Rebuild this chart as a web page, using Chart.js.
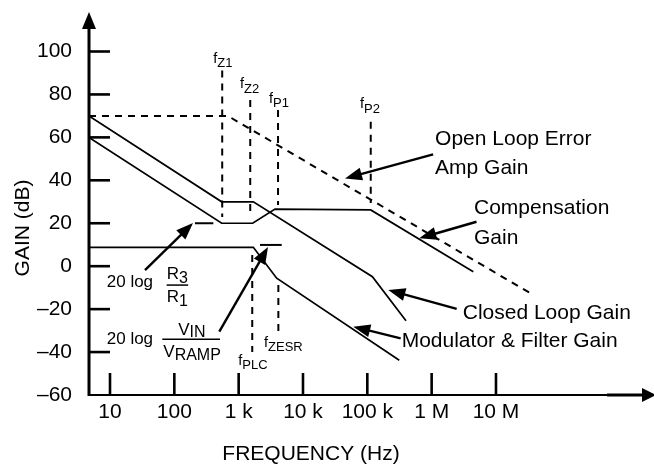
<!DOCTYPE html>
<html><head><meta charset="utf-8">
<style>html,body{margin:0;padding:0;background:#fff;}canvas{display:block;}</style>
<script src="https://cdn.jsdelivr.net/npm/chart.js@4.4.1/dist/chart.umd.min.js"></script>
</head><body>
<canvas id="c" width="654" height="466"></canvas>
<script>
// ---- axis ranges / ticks ----
const xAxisMin = 4.716, xAxisMax = 2.86e9;
const yAxisMin = -60, yAxisMax = 118.4;
const xTickValues = [10, 100, 1e3, 1e4, 1e5, 1e6, 1e7];
const xTickLabels = ['10', '100', '1 k', '10 k', '100 k', '1 M', '10 M'];
const yTickValues = [100, 80, 60, 40, 20, 0, -20, -40, -60];
const yTickLabels = ['100', '80', '60', '40', '20', '0', '\u201320', '\u201340', '\u201360'];

// ---- series (frequency Hz, gain dB) ----
const openLoopFreq = [4.716, 680, 3.8e7];
const openLoopGain = [70, 70, -13.4];
const compFreq = [4.716, 545, 1652, 3673, 1.13e5, 4.44e6];
const compGain = [60, 20, 20, 26.6, 26.2, -2.6];
const closedFreq = [4.716, 545, 1690, 1.2e5, 3.99e5];
const closedGain = [70, 30, 30, -4.9, -25.4];
const modFreq = [4.716, 1690, 3900, 3.14e5];
const modGain = [8.8, 8.8, -5.6, -43.8];

// short level markers
const r3r1MarkFreq = [209, 404];
const r3r1MarkGain = [20, 20];
const vinMarkFreq = [2148, 4670];
const vinMarkGain = [9.9, 9.9];

// vertical dashed frequency markers
const vNames = ['Z1', 'Z2', 'P1', 'P2', 'PLC', 'ZESR'];
const vFreq = [555, 1513, 4093, 1.13e5, 1626, 4140];
const vTop = [91.1, 77.4, 72.8, 67.3, 5.2, -8.8];
const vBottom = [22.9, 22.9, 28.5, 29.4, -40, -31.1];
const vLabelFreq = [402, 1050, 2965, 7.69e4, 986, 2478];
const vLabelGain = [94.8, 82.9, 76.2, 73.5, -46.0, -37.6];

// annotation arrows: tail (freq, gain) -> tip (freq, gain)
const arrowTailFreq = [1.054e6, 4.98e6, 2.45e6, 3.30e5, 35.0, 500];
const arrowTailGain = [52.1, 20.7, -19.9, -33.6, -1.8, -30.5];
const arrowTipFreq = [4.50e4, 6.43e5, 2.12e5, 6.04e4, 195, 2858];
const arrowTipGain = [40.9, 13.0, -11.1, -28.2, 20.1, 8.9];

// annotation texts (left x freq, baseline gain)
const labelTexts = ['Open Loop Error', 'Amp Gain', 'Compensation', 'Gain', 'Closed Loop Gain', 'Modulator & Filter Gain'];
const labelFreq = [1.13e6, 1.13e6, 4.55e6, 4.55e6, 3.04e6, 3.42e5];
const labelGain = [56.4, 42.9, 24.3, 10.3, -24.6, -37.5];

const FONT = '"Liberation Sans", Arial, Helvetica, sans-serif';
const pts = (fs, gs) => fs.map((f, i) => ({x: f, y: gs[i]}));
const solid = {borderColor: '#000', borderWidth: 1.7, pointRadius: 0, showLine: true, fill: false, tension: 0};
const dashed = {borderColor: '#000', borderWidth: 2, borderDash: [7, 6], pointRadius: 0, showLine: true, fill: false, tension: 0};

const datasets = [
  Object.assign({data: pts(openLoopFreq, openLoopGain)}, dashed),
  Object.assign({data: pts(compFreq, compGain)}, solid),
  Object.assign({data: pts(closedFreq, closedGain)}, solid),
  Object.assign({data: pts(modFreq, modGain)}, solid),
  Object.assign({data: pts(r3r1MarkFreq, r3r1MarkGain)}, solid, {borderWidth: 2}),
  Object.assign({data: pts(vinMarkFreq, vinMarkGain)}, solid, {borderWidth: 2}),
];
vFreq.forEach((f, i) => {
  datasets.push(Object.assign({data: [{x: f, y: vTop[i]}, {x: f, y: vBottom[i]}]}, dashed));
});

function arrow(ctx, x1, y1, x2, y2, len, hw, lw) {
  const a = Math.atan2(y2 - y1, x2 - x1);
  const c = Math.cos(a), s = Math.sin(a);
  ctx.lineWidth = lw;
  ctx.beginPath();
  ctx.moveTo(x1, y1);
  ctx.lineTo(x2 - c * len * 0.8, y2 - s * len * 0.8);
  ctx.stroke();
  ctx.beginPath();
  ctx.moveTo(x2, y2);
  ctx.lineTo(x2 - c * len - s * hw, y2 - s * len + c * hw);
  ctx.lineTo(x2 - c * len + s * hw, y2 - s * len - c * hw);
  ctx.closePath();
  ctx.fill();
}
function subText(ctx, main, sub, x, y, ms, ss, dy) {
  ctx.font = ms + 'px ' + FONT;
  ctx.fillText(main, x, y);
  const w = ctx.measureText(main).width;
  ctx.font = ss + 'px ' + FONT;
  ctx.fillText(sub, x + w, y + dy);
}

const decor = {
  id: 'decor',
  afterDraw(chart) {
    const ctx = chart.ctx, xs = chart.scales.x, ys = chart.scales.y;
    const X = v => xs.getPixelForValue(v), Y = v => ys.getPixelForValue(v);
    const L = chart.chartArea.left, T = chart.chartArea.top, R = chart.chartArea.right, B = Y(-60);
    ctx.save();
    ctx.strokeStyle = '#000'; ctx.fillStyle = '#000'; ctx.lineCap = 'butt';
    // y axis
    ctx.lineWidth = 3;
    ctx.beginPath(); ctx.moveTo(L, B + 1); ctx.lineTo(L, T + 14); ctx.stroke();
    ctx.beginPath(); ctx.moveTo(L, T); ctx.lineTo(L - 7, T + 17); ctx.lineTo(L + 7, T + 17); ctx.closePath(); ctx.fill();
    // x axis
    ctx.lineWidth = 2;
    ctx.beginPath(); ctx.moveTo(L, B); ctx.lineTo(R - 47, B); ctx.stroke();
    ctx.lineWidth = 3;
    ctx.beginPath(); ctx.moveTo(R - 47, B); ctx.lineTo(R - 8, B); ctx.stroke();
    ctx.beginPath(); ctx.moveTo(R + 2, B); ctx.lineTo(R - 12, B - 7); ctx.lineTo(R - 12, B + 7); ctx.closePath(); ctx.fill();
    // ticks
    ctx.lineWidth = 2.6;
    yTickValues.forEach(v => { if (v === -60) return; const y = Y(v); ctx.beginPath(); ctx.moveTo(L, y); ctx.lineTo(L + 21, y); ctx.stroke(); });
    xTickValues.forEach(v => { const x = X(v); ctx.beginPath(); ctx.moveTo(x, B); ctx.lineTo(x, B - 22); ctx.stroke(); });
    // arrows
    arrowTailFreq.forEach((f, i) => {
      arrow(ctx, X(f), Y(arrowTailGain[i]), X(arrowTipFreq[i]), Y(arrowTipGain[i]), 17, 6.5, 2.4);
    });
    // labels
    ctx.textBaseline = 'alphabetic'; ctx.textAlign = 'left';
    ctx.font = '21px ' + FONT;
    labelTexts.forEach((t, i) => ctx.fillText(t, X(labelFreq[i]), Y(labelGain[i])));
    vNames.forEach((n, i) => subText(ctx, 'f', n, X(vLabelFreq[i]), Y(vLabelGain[i]), 14.5, 13, 4.5));
    // 20 log R3/R1
    ctx.font = '17px ' + FONT;
    ctx.fillText('20 log', X(8.9), Y(-9.8));
    ctx.fillText('20 log', X(8.9), Y(-36.2));
    subText(ctx, 'R', '3', X(75.9), Y(-6.1), 17, 16, 4);
    subText(ctx, 'R', '1', X(75.9), Y(-16.5), 17, 16, 4);
    ctx.lineWidth = 1.5;
    ctx.beginPath(); ctx.moveTo(X(75.9), Y(-8.8)); ctx.lineTo(X(164), Y(-8.8)); ctx.stroke();
    subText(ctx, 'V', 'IN', X(115), Y(-32.0), 17, 16, 2);
    subText(ctx, 'V', 'RAMP', X(67.4), Y(-42.2), 17, 16, 3);
    ctx.beginPath(); ctx.moveTo(X(65), Y(-34.0)); ctx.lineTo(X(513), Y(-34.0)); ctx.stroke();
    // axis titles
    ctx.font = '21px ' + FONT;
    ctx.textAlign = 'center';
    ctx.fillText('FREQUENCY (Hz)', 311, 460);
    ctx.save();
    ctx.translate(29, 228); ctx.rotate(-Math.PI / 2);
    ctx.fillText('GAIN (dB)', 0, 0);
    ctx.restore();
    ctx.restore();
  }
};

const noPad = s => { s.paddingTop = 0; s.paddingBottom = 0; s.paddingLeft = 0; s.paddingRight = 0; };

new Chart(document.getElementById('c'), {
  type: 'scatter',
  data: {datasets},
  plugins: [decor],
  options: {
    responsive: false, animation: false,
    layout: {padding: {left: 0, right: 0, top: 12, bottom: 0}},
    plugins: {legend: {display: false}, tooltip: {enabled: false}},
    scales: {
      x: {
        type: 'logarithmic', min: xAxisMin, max: xAxisMax,
        afterBuildTicks: s => { s.ticks = xTickValues.map(v => ({value: v})); },
        afterFit: s => { s.height = 71; noPad(s); },
        grid: {display: false, drawTicks: false}, border: {display: false},
        ticks: {padding: 5, color: '#000', font: {family: FONT, size: 21}, maxRotation: 0, autoSkip: false,
                callback: (v, i) => xTickLabels[i]}
      },
      y: {
        type: 'linear', min: yAxisMin, max: yAxisMax,
        afterBuildTicks: s => { s.ticks = yTickValues.map(v => ({value: v})); },
        afterFit: s => { s.width = 89; noPad(s); },
        grid: {display: false, drawTicks: false}, border: {display: false},
        ticks: {padding: 17, color: '#000', font: {family: FONT, size: 21}, autoSkip: false,
                callback: (v, i) => yTickLabels[i]}
      }
    }
  }
});
</script>
</body></html>
